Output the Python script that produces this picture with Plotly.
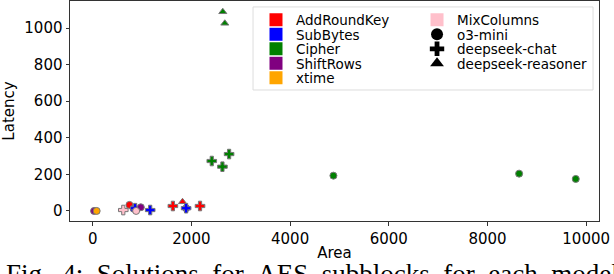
import plotly.graph_objects as go

# ---- data ----
modules = ["AddRoundKey", "SubBytes", "Cipher", "ShiftRows", "xtime", "MixColumns"]
module_colors = ["red", "blue", "green", "purple", "orange", "pink"]
models = ["o3-mini", "deepseek-chat", "deepseek-reasoner"]
model_symbols = ["circle", "cross", "triangle-up"]

point_module = ["ShiftRows", "xtime", "MixColumns", "AddRoundKey", "SubBytes", "SubBytes",
                "MixColumns", "ShiftRows", "SubBytes", "AddRoundKey", "AddRoundKey",
                "SubBytes", "SubBytes", "AddRoundKey", "Cipher", "Cipher", "Cipher",
                "Cipher", "Cipher", "Cipher", "Cipher", "Cipher"]
point_model = ["o3-mini", "o3-mini", "deepseek-chat", "o3-mini", "o3-mini", "deepseek-chat",
               "o3-mini", "o3-mini", "deepseek-chat", "deepseek-chat", "deepseek-reasoner",
               "o3-mini", "deepseek-chat", "deepseek-chat", "deepseek-chat", "deepseek-chat",
               "deepseek-chat", "deepseek-reasoner", "deepseek-reasoner", "o3-mini",
               "o3-mini", "o3-mini"]
area = [28, 80, 620, 745, 830, 860,
        880, 975, 1165, 1625, 1820,
        1893, 1893, 2175, 2413, 2629,
        2764, 2636, 2677, 4878,
        8641, 9789]
latency = [0, 0, 5, 33, 12, 15,
           0, 20, 5, 27, 50,
           15, 15, 27, 273, 242,
           311, 1089, 1026, 193,
           204, 175]

x_ticks = [0, 2000, 4000, 6000, 8000, 10000]
y_ticks = [0, 200, 400, 600, 800, 1000]

# legend layout: column 1 then column 2 (matplotlib ncol=2 order)
legend_col1 = ["AddRoundKey", "SubBytes", "Cipher", "ShiftRows", "xtime"]
legend_col2 = ["MixColumns", "o3-mini", "deepseek-chat", "deepseek-reasoner"]

caption_words = ["Fig.", "4:", "Solutions", "for", "AES", "subblocks", "for", "each", "model"]

FONT = "DejaVu Sans"
color_of = dict(zip(modules, module_colors))
symbol_of = dict(zip(models, model_symbols))
size_of = {"circle": 7, "cross": 8, "triangle-up": 7}

fig = go.Figure()

# data points, one trace per (module, model)
for mod in modules:
    for mdl in models:
        xs = [a for a, pm, pl in zip(area, point_module, point_model) if pm == mod and pl == mdl]
        ys = [l for l, pm, pl in zip(latency, point_module, point_model) if pm == mod and pl == mdl]
        if not xs:
            continue
        sym = symbol_of[mdl]
        fig.add_trace(go.Scatter(
            x=xs, y=ys, mode="markers", showlegend=False, cliponaxis=False,
            marker=dict(symbol=sym, size=size_of[sym], color=color_of[mod],
                        line=dict(color="#777777", width=1)),
        ))


def legend_marker(name):
    if name in color_of:
        return dict(symbol="square", size=13, color=color_of[name], line=dict(width=0))
    return dict(symbol=symbol_of[name], size=12, color="black", line=dict(width=0))


# one small legend per legend entry, so rows sit as tightly as in the reference
row_top = 20.0      # px centre of first row
row_step = 14.5     # px between rows
plot_top, plot_h = 1, 220
col_x = [0.3516, 0.656]
k = 0
for c, col in enumerate([legend_col1, legend_col2]):
    for r, nm in enumerate(col):
        k += 1
        lname = "legend" if k == 1 else f"legend{k}"
        fig.add_trace(go.Scatter(x=[None], y=[None], mode="markers", name=nm,
                                 legend=lname, marker=legend_marker(nm)))
        yc = 1 - (row_top + r * row_step - plot_top) / plot_h
        fig.update_layout({lname: dict(
            x=col_x[c], y=yc, xanchor="left", yanchor="middle",
            bgcolor="rgba(0,0,0,0)", borderwidth=0, itemsizing="trace",
            font=dict(family=FONT, size=13.5, color="black"),
        )})

# legend frame
fig.add_shape(type="rect", xref="paper", yref="paper",
              x0=0.346, x1=0.9887, y0=0.5955, y1=0.973,
              line=dict(color="#dddddd", width=1), fillcolor="rgba(255,255,255,0.8)",
              layer="below")

axis_common = dict(
    showgrid=False, zeroline=False, showline=True, linecolor="#333333", linewidth=1,
    mirror=True, ticks="outside", ticklen=3.5, tickcolor="#333333", automargin=False,
    tickfont=dict(family=FONT, size=15, color="black"),
)
fig.update_xaxes(range=[-460, 10260], tickvals=x_ticks, ticktext=[str(v) for v in x_ticks],
                 title=dict(text="Area", font=dict(family=FONT, size=15, color="black"), standoff=0),
                 **axis_common)
fig.update_yaxes(range=[-55, 1148], tickvals=y_ticks, ticktext=[str(v) for v in y_ticks],
                 title=dict(text="Latency", font=dict(family=FONT, size=15, color="black"), standoff=6),
                 **axis_common)

# caption (justified, cut off at the bottom of the image, as in the reference)
fig.add_annotation(text=" \u00a0".join(caption_words),
                   xref="paper", yref="paper", x=-0.125, y=-0.162, xanchor="left", yanchor="top",
                   showarrow=False, font=dict(family="Liberation Serif", size=27, color="black"))

fig.update_layout(
    width=614, height=274, margin=dict(l=70, r=15, t=1, b=53, autoexpand=False),
    plot_bgcolor="white", paper_bgcolor="white",
)

fig.write_html("out.html", config={"displayModeBar": False},
               post_script="document.body.style.margin='0';")
